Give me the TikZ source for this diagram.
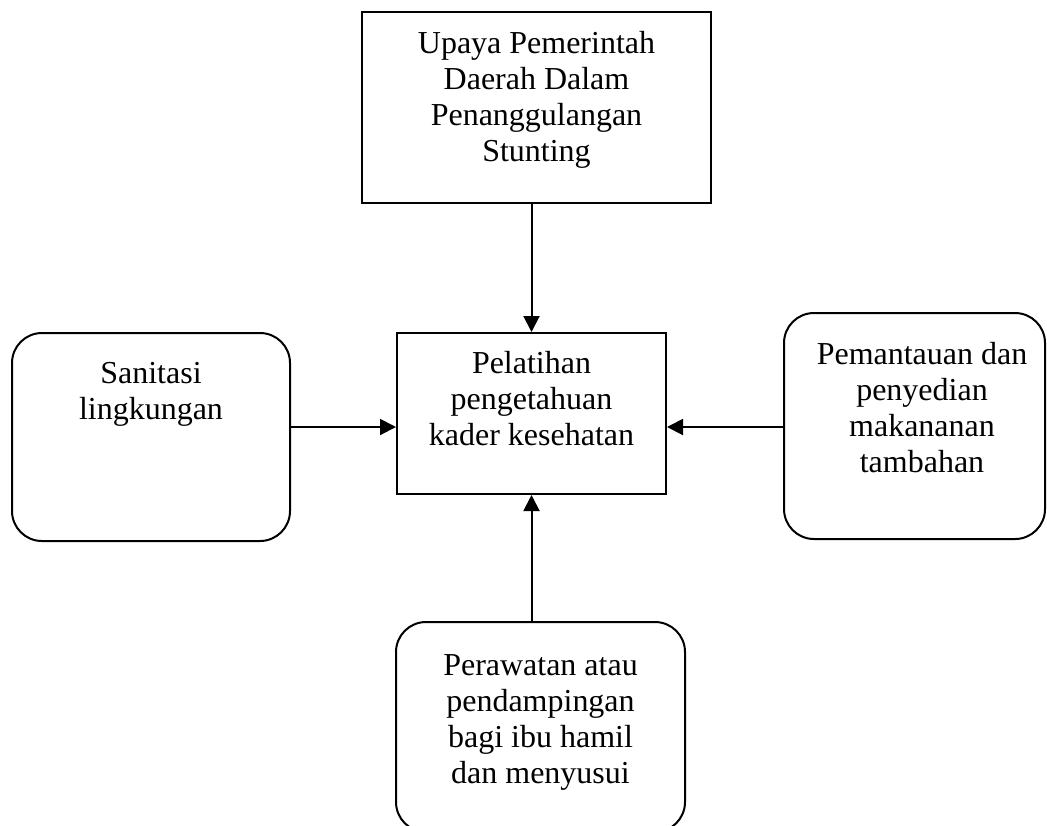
\documentclass[tikz,border=0pt]{standalone}
\usepackage{fontspec}
\setmainfont{Liberation Serif}
\usetikzlibrary{arrows.meta}
\usetikzlibrary{positioning}
\tikzset{>={Triangle[length=0.32cm, width=0.32cm]}}
\tikzset{
    plainbox/.style={draw, rectangle, line width=0.04cm, inner sep=0},
    roundbox/.style={plainbox, rounded corners=0.6cm},
    boxtext/.style={align=center, inner sep=0, font=\fontsize{18.2}{20.5}\selectfont},
    link/.style={line width=0.04cm, ->}
}

\begin{document}
\begin{tikzpicture}
            \useasboundingbox (0, 0) rectangle (20.94, -16.5);
            \node[plainbox, minimum width=6.98cm, minimum height=3.82cm] (upaya) at (10.73, -2.15) {};
            \node[boxtext, below=0.4cm of upaya.north] (upayatext) {Upaya Pemerintah\\Daerah Dalam\\Penanggulangan\\Stunting};
            \node[plainbox, minimum width=5.38cm, minimum height=3.22cm] (pelatihan) at (10.63, -8.27) {};
            \node[boxtext, below=0.38cm of pelatihan.north] (pelatihantext) {Pelatihan\\pengetahuan\\kader kesehatan};
            \node[roundbox, minimum width=5.56cm, minimum height=4.16cm] (sanitasi) at (3.02, -8.74) {};
            \node[boxtext, below=0.6cm of sanitasi.north] (sanitasitext) {Sanitasi\\lingkungan};
            \node[roundbox, minimum width=5.22cm, minimum height=4.52cm] (pemantauan) at (18.29, -8.52) {};
            \node[boxtext, below=0.6cm of pemantauan.north, xshift=0.15cm] (pemantauantext) {Pemantauan dan\\penyedian\\makananan\\tambahan};
            \node[roundbox, minimum width=5.78cm, minimum height=4.2cm] (perawatan) at (10.81, -14.54) {};
            \node[boxtext, below=0.66cm of perawatan.north] (perawatantext) {Perawatan atau\\pendampingan\\bagi ibu hamil\\dan menyusui};
            \coordinate (level) at (10.63, -8.54);
            \draw[link] (upaya.south -| pelatihan.north) -- (pelatihan.north);
            \draw[link] (sanitasi.east |- level) -- (pelatihan.west |- level);
            \draw[link] (pemantauan.west |- level) -- (pelatihan.east |- level);
            \draw[link] (perawatan.north -| pelatihan.south) -- (pelatihan.south);
        \end{tikzpicture}
\end{document}
